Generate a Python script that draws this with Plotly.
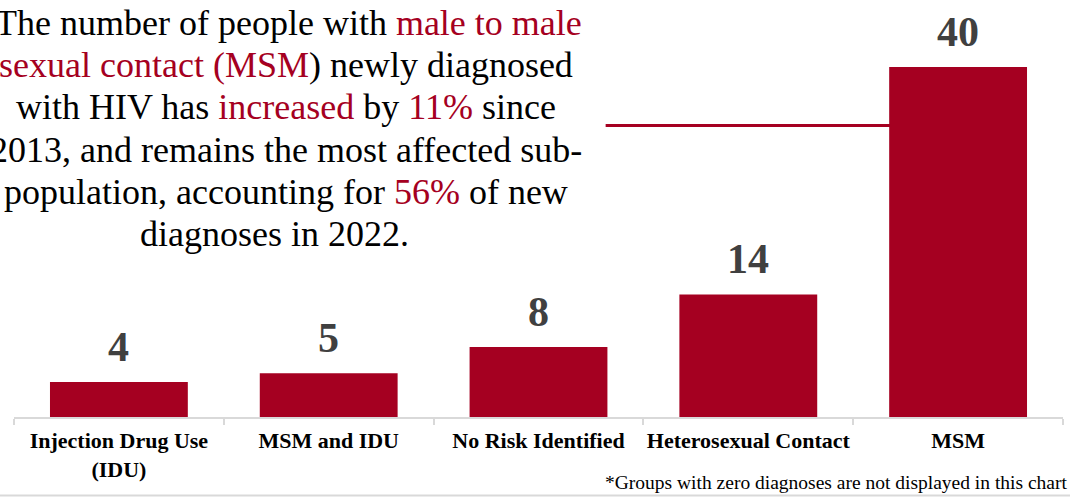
import plotly.graph_objects as go

categories = ["Injection Drug Use (IDU)", "MSM and IDU", "No Risk Identified", "Heterosexual Contact", "MSM"]
tick_labels = ["Injection Drug Use<br>(IDU)", "MSM and IDU", "No Risk Identified", "Heterosexual Contact", "MSM"]
values = [4, 5, 8, 14, 40]

RED = "#A50021"
SERIF = "Liberation Serif"

fig = go.Figure()
fig.add_trace(go.Bar(x=categories, y=values, marker=dict(color=RED, line=dict(width=0)),
                     hoverinfo="skip"))

for c, v in zip(categories, values):
    fig.add_annotation(x=c, y=v, xref="x", yref="y", text=f"<b>{v}</b>", showarrow=False,
                       yanchor="bottom", yshift=10,
                       font=dict(family=SERIF, size=42, color="#404040"))

def r(t):
    return f"<span style='color:{RED}'>{t}</span>"

para_lines = [
    "The number of people with " + r("male to male"),
    r("sexual contact (MSM") + ") newly diagnosed",
    "with HIV has " + r("increased") + " by " + r("11%") + " since",
    "2013, and remains the most affected sub-",
    "population, accounting for " + r("56%") + " of new",
    "diagnoses in 2022.",
]
line_xshift = [2, 0, 0, 0, 0, -12]
PLOT_TOP, PLOT_H = 10, 407
for i, line in enumerate(para_lines):
    py = 23 + i * 42.2
    fig.add_annotation(x=0.2593, y=1 - (py - PLOT_TOP) / PLOT_H, xref="paper", yref="paper",
                       text=line, showarrow=False, xanchor="center", yanchor="middle",
                       xshift=line_xshift[i],
                       font=dict(family=SERIF, size=36, color="#000000"))

fig.add_annotation(x=1.0066, y=1 - (482 - PLOT_TOP) / PLOT_H, xref="paper", yref="paper",
                   text="*Groups with zero diagnoses are not displayed in this chart",
                   showarrow=False, xanchor="right", yanchor="middle",
                   font=dict(family=SERIF, size=19.5, color="#000000"))

# connector line from text to MSM bar
fig.add_shape(type="line", xref="x", yref="y", x0=2.32, x1=4, y0=33.3, y1=33.3,
              line=dict(color=RED, width=3), layer="below")
# bottom rule
fig.add_shape(type="line", xref="paper", yref="paper", x0=-0.02, x1=1.01,
              y0=1 - (495.5 - PLOT_TOP) / PLOT_H, y1=1 - (495.5 - PLOT_TOP) / PLOT_H,
              line=dict(color="#D9D9D9", width=2))

fig.update_layout(
    width=1070, height=497,
    margin=dict(l=14, r=7, t=PLOT_TOP, b=80),
    plot_bgcolor="white", paper_bgcolor="white",
    bargap=0.343, showlegend=False,
    xaxis=dict(tickmode="array", tickvals=categories, ticktext=[f"<b>{t}</b>" for t in tick_labels],
               tickfont=dict(family=SERIF, size=22, color="#000000"), tickangle=0,
               ticklabelstandoff=3,
               showline=True, linecolor="#D9D9D9", linewidth=2,
               ticks="outside", tickson="boundaries", ticklen=6, tickcolor="#D9D9D9", tickwidth=1.5,
               showgrid=False, fixedrange=True, automargin=False),
    yaxis=dict(range=[0, 46.5], visible=False, showgrid=False, zeroline=False, fixedrange=True),
)

fig.write_html("out.html", config={"displayModeBar": False},
               post_script="document.body.style.margin='0';document.body.style.overflow='hidden';")
